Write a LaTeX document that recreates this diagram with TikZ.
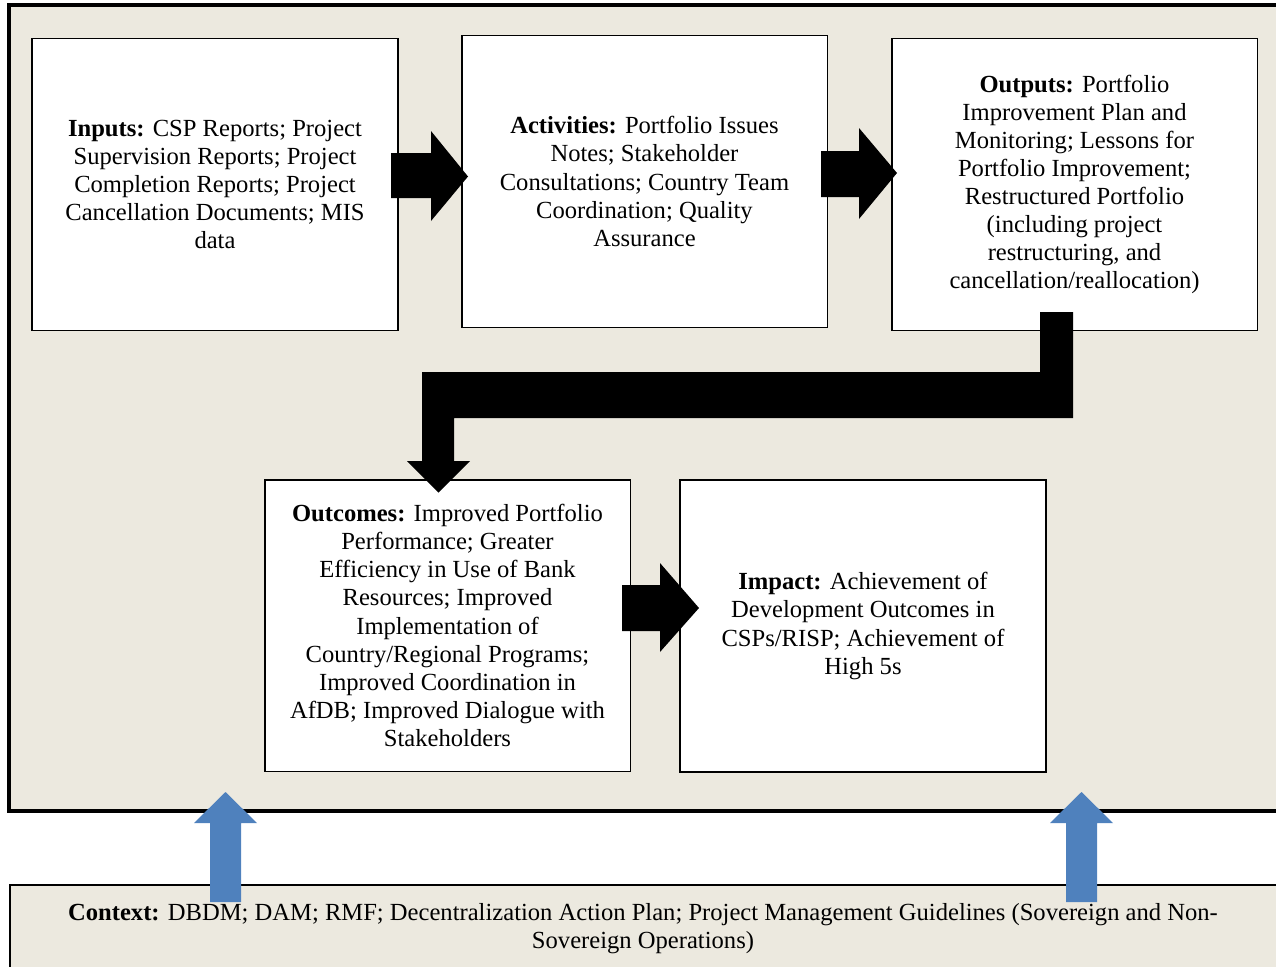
\documentclass[tikz,border=0pt]{standalone}
\usepackage{fontspec}
\setmainfont{Liberation Serif}
\usetikzlibrary{calc}
\definecolor{framebg}{RGB}{236,233,223}
\definecolor{liftblue}{RGB}{79,129,189}

\begin{document}
\begin{tikzpicture}[x=0.02cm,y=-0.02cm,
    every node/.style={inner sep=0,outer sep=0},
    box/.style={draw,line width=1.1pt,fill=white,minimum width=7.32cm,
        minimum height=5.84cm,align=center,font=\fontsize{14}{16}\selectfont},
    fat/.style={fill=black},
    lift/.style={fill=liftblue}]
    \useasboundingbox (0,0) rectangle (1276,967);
    \draw[line width=2.3pt,fill=framebg] (9,5) rectangle (1290,811);
    \draw[line width=1.4pt,fill=framebg] (10,885) rectangle (1290,990);

    \node[box](inputs) at (215,184.5) {\textbf{Inputs:} CSP Reports; Project\\
        Supervision Reports; Project\\ Completion Reports; Project\\
        Cancellation Documents; MIS\\ data};
    \node[box](activities) at (644.5,181.5) {\textbf{Activities:} Portfolio Issues\\
        Notes; Stakeholder\\ Consultations; Country Team\\
        Coordination; Quality\\ Assurance};
    \node[box](outputs) at (1074.5,184.5) {\textbf{Outputs:} Portfolio\\
        Improvement Plan and\\ Monitoring; Lessons for\\
        Portfolio Improvement;\\ Restructured Portfolio\\
        (including project\\ restructuring, and\\ cancellation/reallocation)};
    \node[box](outcomes) at (447.5,625.5) {\textbf{Outcomes:} Improved Portfolio\\
        Performance; Greater\\ Efficiency in Use of Bank\\
        Resources; Improved\\ Implementation of\\
        Country/Regional Programs;\\ Improved Coordination in\\
        AfDB; Improved Dialogue with\\ Stakeholders};
    \node[box](impact) at (863,626) {\textbf{Impact:} Achievement of\\
        Development Outcomes in\\ CSPs/RISP; Achievement of\\ High 5s};
    \node[align=center,font=\fontsize{14}{16}\selectfont](context) at (643,929)
        {\textbf{Context:} DBDM; DAM; RMF; Decentralization Action Plan; Project Management Guidelines (Sovereign and Non-\\
        Sovereign Operations)};

    % block arrows between the boxes
    \fill[fat] (391,153) -- (431,153) -- (431,131) -- (468,176.5)
        -- (431,221) -- (431,198) -- (391,198) -- cycle;
    \fill[fat] (821,151) -- (859,151) -- (859,128) -- (897,173)
        -- (859,219) -- (859,197) -- (821,197) -- cycle;
    \fill[fat] (622,585) -- (660,585) -- (660,563) -- (699,608)
        -- (660,652) -- (660,631) -- (622,631) -- cycle;
    \fill[fat] (1040,312) -- (1073,312) -- (1073,418) -- (454,418)
        -- (454,461) -- (470,461) -- (438.5,492.5) -- (407,461)
        -- (422,461) -- (422,372) -- (1040,372) -- cycle;

    % context arrows
    \fill[lift] (210,902) -- (210,823) -- (194,823) -- (225.5,792)
        -- (257,823) -- (241,823) -- (241,902) -- cycle;
    \fill[lift] (1066,902) -- (1066,823) -- (1050,823) -- (1081.5,792)
        -- (1113,823) -- (1097,823) -- (1097,902) -- cycle;
\end{tikzpicture}
\end{document}
